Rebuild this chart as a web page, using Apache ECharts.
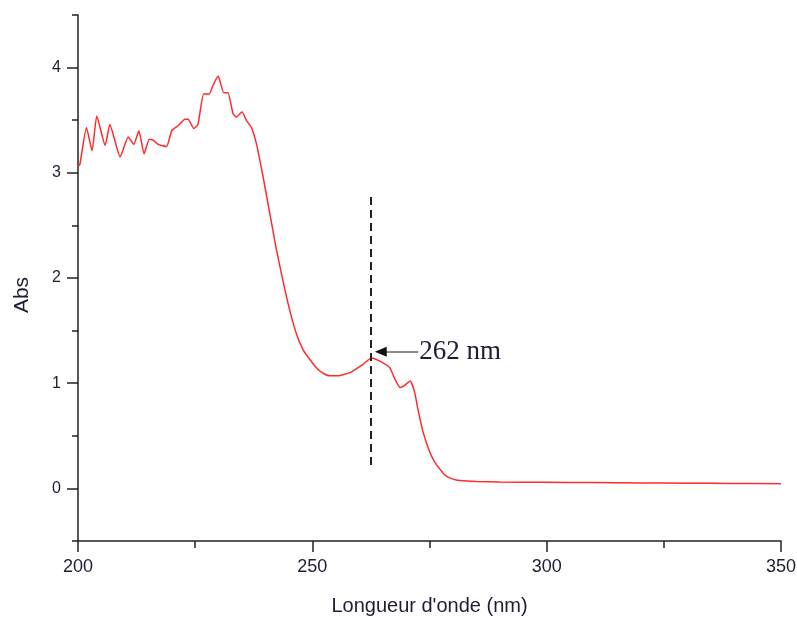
<!DOCTYPE html>
<html>
<head>
<meta charset="utf-8">
<script src="https://cdn.jsdelivr.net/npm/echarts@6/dist/echarts.min.js"></script>
<style>
  html, body { margin: 0; padding: 0; background: #fff; }
  #main { width: 797px; height: 617px; }
</style>
</head>
<body>
<div id="main"></div>
<script>
// wavelength (nm) and absorbance
const wavelength = [200, 200.4, 201.8, 203.0, 204.0, 205.8, 206.8, 209.0, 210.7, 211.9,
  213.0, 214.1, 215.2, 216.0, 217.1, 218.9, 220.0, 221.4, 222.8, 223.5,
  224.7, 225.6, 226.8, 228.0, 228.8, 229.9, 231.1, 232.0, 233.1, 233.8,
  235.0, 235.9, 237.0, 238.1, 239.5, 240.9, 242.3, 243.7, 245.2, 246.6,
  248.0, 249.4, 251.0, 252.5, 253.7, 255.5, 258.0, 260.8, 262.6, 264.4,
  266.5, 267.5, 268.7, 269.7, 270.9, 271.8, 272.5, 273.6, 275.0, 276.0,
  277.1, 278.2, 279.3, 280.7, 283, 285, 290, 300, 310, 320,
  330, 340, 350];
const absorbance = [3.06, 3.08, 3.43, 3.21, 3.54, 3.26, 3.46, 3.15, 3.34, 3.27,
  3.40, 3.18, 3.32, 3.31, 3.27, 3.25, 3.40, 3.45, 3.51, 3.51,
  3.42, 3.46, 3.75, 3.75, 3.83, 3.92, 3.76, 3.76, 3.56, 3.53,
  3.58, 3.50, 3.43, 3.27, 2.96, 2.62, 2.28, 1.98, 1.69, 1.47,
  1.32, 1.23, 1.14, 1.09, 1.07, 1.07, 1.10, 1.18, 1.24, 1.21,
  1.15, 1.05, 0.96, 0.98, 1.02, 0.92, 0.76, 0.54, 0.35, 0.26,
  0.19, 0.13, 0.10, 0.08, 0.07, 0.065, 0.06, 0.058, 0.055, 0.052,
  0.05, 0.047, 0.045];

// y tick positions (long ticks go on the integers)
const yTicks = ['-0.5', '0', '0.5', '1', '1.5', '2', '2.5', '3', '3.5', '4', '4.5'];

// annotation
const peakWl = 262.5;
const peakLabel = '262 nm';
const dashTop = 2.77, dashBottom = 0.22;
const arrowY = 1.30, arrowStart = 272.6, arrowHeadStart = 265.6, arrowHeadEnd = 264.6;

const chart = echarts.init(document.getElementById('main'));

const axisColor = '#222';
const textColor = '#1d1d33';

chart.setOption({
  animation: false,
  grid: { left: 78, right: 16, top: 15, bottom: 76, outerBoundsMode: 'none', containLabel: false },
  xAxis: {
    type: 'value',
    min: 200, max: 350, interval: 50,
    name: "Longueur d'onde (nm)",
    nameLocation: 'middle',
    nameGap: 55,
    nameTextStyle: { fontFamily: 'Liberation Sans', fontSize: 20, color: textColor },
    axisLine: { onZero: false, lineStyle: { color: axisColor, width: 1.5 } },
    axisTick: { length: 11, lineStyle: { color: axisColor, width: 1.5 } },
    minorTick: { show: true, splitNumber: 2, length: 7, lineStyle: { color: axisColor, width: 1.5 } },
    axisLabel: { fontFamily: 'Liberation Sans', fontSize: 18, color: textColor, margin: 17 },
    splitLine: { show: false }
  },
  yAxis: [
    {
      type: 'value',
      min: -0.5, max: 4.5, interval: 0.5,
      name: 'Abs',
      nameLocation: 'middle',
      nameGap: 45,
      nameTextStyle: { fontFamily: 'Liberation Sans', fontSize: 21, color: textColor, padding: [0, 34, 0, 0] },
      axisLine: { show: true, onZero: false, lineStyle: { color: axisColor, width: 1.5 } },
      axisTick: { length: 6, lineStyle: { color: axisColor, width: 1.5 } },
      axisLabel: {
        fontFamily: 'Liberation Sans', fontSize: 16, color: textColor, margin: 17,
        formatter: v => (Math.abs(v - Math.round(v)) < 1e-9 ? String(Math.round(v)) : '')
      },
      splitLine: { show: false }
    },
    {
      type: 'category',
      data: yTicks,
      boundaryGap: false,
      position: 'left',
      offset: 0,
      axisLine: { show: false, onZero: false },
      axisTick: { show: true, length: 11, interval: (i) => i % 2 === 1, lineStyle: { color: axisColor, width: 1.5 } },
      axisLabel: { show: false, interval: 0 },
      splitLine: { show: false }
    }
  ],
  series: [{
    type: 'line',
    data: wavelength.map((w, i) => [w, absorbance[i]]),
    showSymbol: false,
    smooth: 0.15,
    lineStyle: { color: '#ff2a2a', width: 1.5 },
    markLine: {
      silent: true,
      symbol: ['none', 'none'],
      label: { show: false },
      data: [
        [
          { coord: [peakWl, dashTop], lineStyle: { type: [8, 5], color: '#222', width: 2 } },
          { coord: [peakWl, dashBottom] }
        ],
        [
          { coord: [arrowStart, arrowY], lineStyle: { type: 'solid', color: '#8c8c8c', width: 2 } },
          { coord: [arrowHeadStart, arrowY] }
        ],
        [
          { coord: [arrowHeadStart, arrowY], lineStyle: { type: 'solid', color: '#111', width: 2 } },
          { coord: [arrowHeadEnd, arrowY], symbol: 'triangle', symbolSize: [10, 12] }
        ]
      ]
    },
    markPoint: {
      silent: true,
      data: [{
        coord: [arrowStart, arrowY],
        symbol: 'circle',
        symbolSize: 0,
        label: {
          show: true, position: 'right', distance: 1,
          formatter: peakLabel,
          fontFamily: 'Liberation Serif', fontSize: 27, color: textColor
        }
      }]
    }
  }]
});
</script>
</body>
</html>
